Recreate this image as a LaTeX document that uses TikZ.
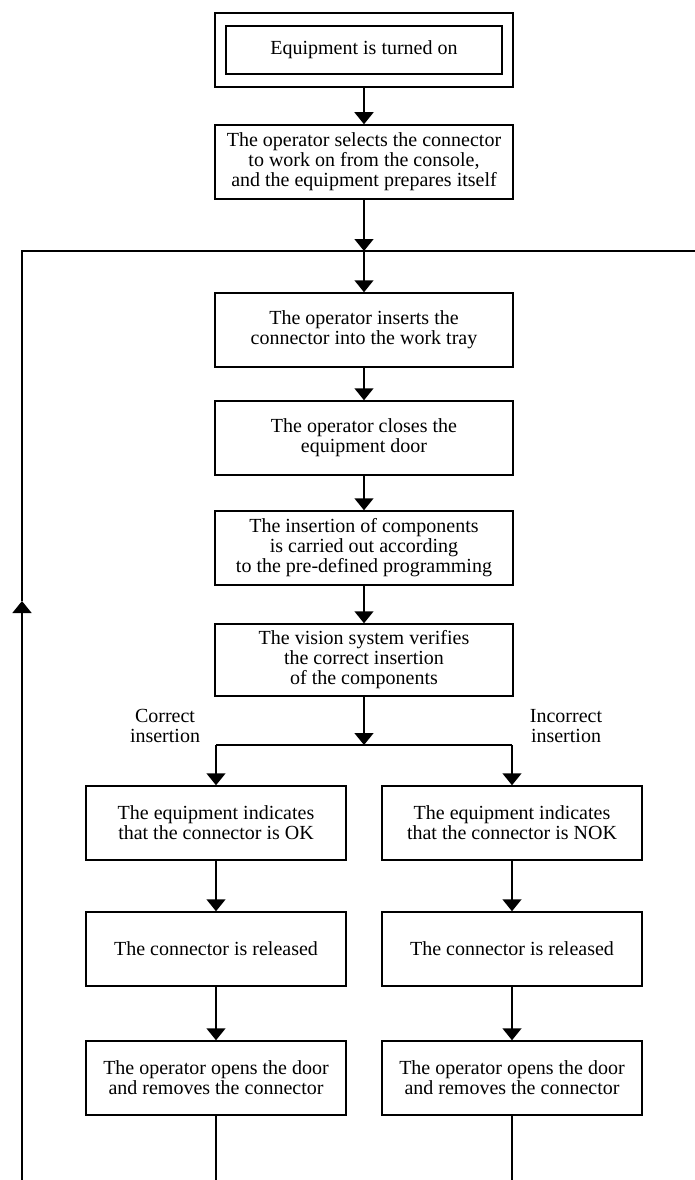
\documentclass[tikz,border=0pt]{standalone}
\usepackage{fontspec}
\setmainfont{Liberation Serif}
\usetikzlibrary{arrows.meta}
\begin{document}
\begin{tikzpicture}[x=1pt,y=-1pt,
  every node/.style={font=\fontsize{20}{20}\selectfont},
  box/.style={draw, line width=1.5pt, inner sep=0pt, align=center, minimum width=298pt, minimum height=74pt},
  sbox/.style={draw, line width=1.5pt, inner sep=0pt, align=center, minimum width=260pt, minimum height=74pt},
  conn/.style={line width=1.6pt},
  arr/.style={conn, -{Triangle[width=19pt,length=12pt]}},
  lbl/.style={align=center, inner sep=0pt}
]
\useasboundingbox (0,0) rectangle (695,1180);
% top
\node[box] (b1) at (364,50) {};
\node[draw, line width=1.5pt, inner sep=0pt, minimum width=276pt, minimum height=48pt] (b1i) at (364,50) {Equipment is turned on};
\node[box] (b2) at (364,162) {The operator selects the connector\\to work on from the console,\\and the equipment prepares itself};
\node[box] (b3) at (364,330) {The operator inserts the\\connector into the work tray};
\node[box] (b4) at (364,438) {The operator closes the\\equipment door};
\node[box] (b5) at (364,548) {The insertion of components\\is carried out according\\to the pre-defined programming};
\node[box, minimum height=72pt] (b6) at (364,660) {The vision system verifies\\the correct insertion\\of the components};
% branches
\node[sbox] (l1) at (216,823) {The equipment indicates\\that the connector is OK};
\node[sbox] (l2) at (216,949) {The connector is released};
\node[sbox] (l3) at (216,1078) {The operator opens the door\\and removes the connector};
\node[sbox] (r1) at (512,823) {The equipment indicates\\that the connector is NOK};
\node[sbox] (r2) at (512,949) {The connector is released};
\node[sbox] (r3) at (512,1078) {The operator opens the door\\and removes the connector};
% labels
\node[lbl] (lc) at (165,726) {Correct\\insertion};
\node[lbl] (li) at (566,726) {Incorrect\\insertion};
% coordinates
\coordinate (join) at (364,251);
\coordinate (split) at (364,745);
\coordinate (sl) at (216,745);
\coordinate (sr) at (512,745);
\coordinate (lend) at (216,1180);
\coordinate (rend) at (512,1180);
\coordinate (lpb) at (22,1180);
\coordinate (lpm) at (22,601);
\coordinate (lpt) at (22,251);
\coordinate (lpr) at (695,251);
% connectors
\draw[arr] (b1.south) -- (b2.north);
\draw[arr] (b2.south) -- (join);
\draw[arr] (join) -- (b3.north);
\draw[arr] (b3.south) -- (b4.north);
\draw[arr] (b4.south) -- (b5.north);
\draw[arr] (b5.south) -- (b6.north);
\draw[arr] (b6.south) -- (split);
\draw[conn] (sl) -- (sr);
\draw[arr] (sl) -- (l1.north);
\draw[arr] (sr) -- (r1.north);
\draw[arr] (l1.south) -- (l2.north);
\draw[arr] (l2.south) -- (l3.north);
\draw[arr] (r1.south) -- (r2.north);
\draw[arr] (r2.south) -- (r3.north);
\draw[conn] (l3.south) -- (lend);
\draw[conn] (r3.south) -- (rend);
\draw[arr] (lpb) -- (lpm);
\draw[conn] (lpm) -- (lpt) -- (lpr);
\end{tikzpicture}
\end{document}
